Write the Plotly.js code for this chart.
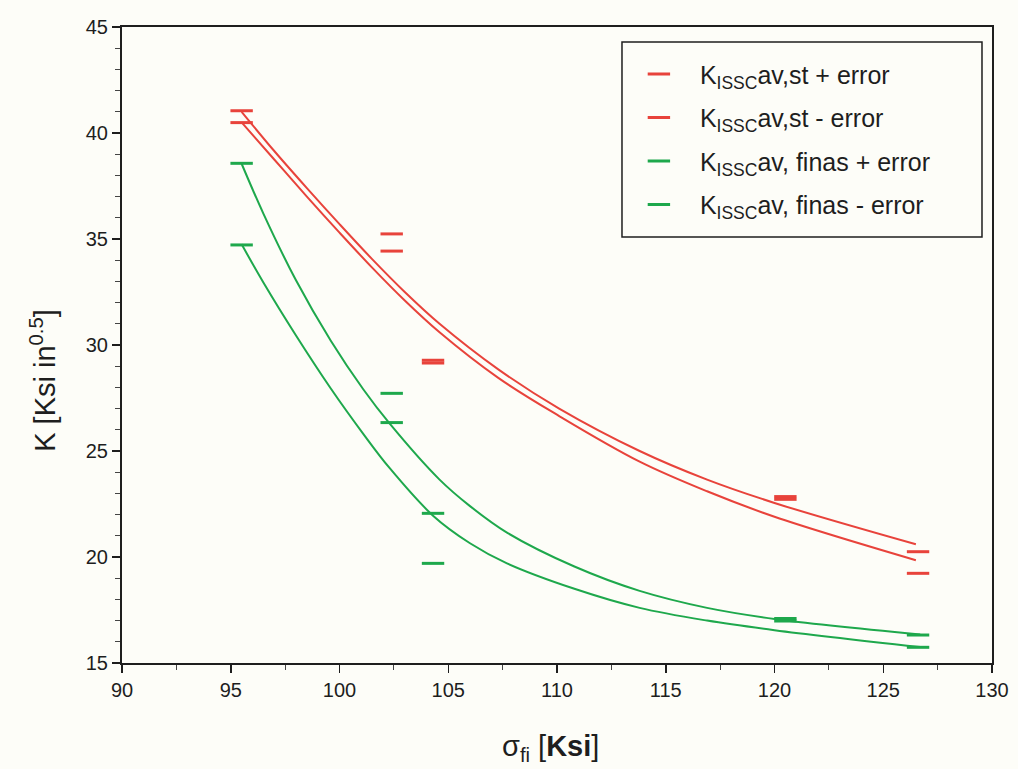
<!DOCTYPE html>
<html>
<head>
<meta charset="utf-8">
<script src="https://cdn.plot.ly/plotly-3.0.1.min.js"></script>
<style>html,body{margin:0;padding:0;background:#fdfdf8;}#chart{width:1018px;height:769px;}</style>
</head>
<body>
<div id="chart"></div>
<script>
// Measured points (dash markers)
const xPts = [95.5, 102.4, 104.3, 120.5, 126.6];
const redPlus  = [41.05, 35.24, 29.28, 22.85, 20.25];
const redMinus = [40.49, 34.43, 29.15, 22.72, 19.23];
const greenPlus  = [38.57, 27.72, 22.06, 17.10, 16.32];
const greenMinus = [34.72, 26.34, 19.70, 16.98, 15.74];

// Fitted curves
const redFitUpX = [95.5, 97.0, 98.5, 100.0, 101.5, 103.0, 104.6, 107.3, 110.1, 113.8, 116.9, 120.0, 126.5];
const redFitUpY = [41.0, 39.15, 37.4, 35.7, 34.05, 32.5, 31.0, 28.85, 27.0, 25.0, 23.65, 22.55, 20.6];
const redFitLoX = [95.5, 97.0, 98.5, 100.0, 101.5, 103.0, 104.6, 107.3, 110.1, 113.8, 116.9, 120.0, 126.5];
const redFitLoY = [40.5, 38.75, 37.0, 35.3, 33.65, 32.1, 30.6, 28.45, 26.65, 24.5, 23.1, 21.9, 19.85];
const greenFitUpX = [95.5, 96.5, 98.0, 99.6, 101.1, 102.3, 104.6, 106.0, 107.7, 110.8, 113.8, 116.9, 120.0, 126.7];
const greenFitUpY = [38.55, 36.2, 33.05, 30.2, 27.9, 26.3, 23.65, 22.4, 21.15, 19.55, 18.4, 17.6, 17.08, 16.35];
const greenFitLoX = [95.5, 96.5, 98.0, 99.6, 101.1, 102.3, 104.3, 106.0, 107.7, 110.8, 113.8, 116.9, 120.0, 126.7];
const greenFitLoY = [34.75, 32.95, 30.45, 27.95, 25.8, 24.2, 21.95, 20.65, 19.7, 18.5, 17.6, 17.0, 16.55, 15.75];

const legendNames = [
  'K<sub>ISSC</sub>av,st + error',
  'K<sub>ISSC</sub>av,st - error',
  'K<sub>ISSC</sub>av, finas + error',
  'K<sub>ISSC</sub>av, finas - error'
];
const xTitle = 'σ<sub>fi</sub> [<b>Ksi</b>]';
const yTitle = 'K [Ksi in<sup>0.5</sup>]';

const RED = '#e8433b';
const GREEN = '#1ea84c';
const INK = '#1e1e1e';
const BG = '#fdfdf8';

function pts(y, name, color, grp) {
  return {
    x: xPts, y: y, name: name, type: 'scatter', mode: 'markers',
    legendgroup: grp,
    marker: {symbol: 'line-ew', size: 16, color: color, line: {color: color, width: 3}},
    cliponaxis: false
  };
}
function fit(x, y, color, grp) {
  return {
    x: x, y: y, type: 'scatter', mode: 'lines', showlegend: false,
    legendgroup: grp,
    line: {color: color, width: 2, shape: 'spline', smoothing: 1.0},
    hoverinfo: 'skip'
  };
}

const data = [
  fit(redFitUpX, redFitUpY, RED, 'a'),
  fit(redFitLoX, redFitLoY, RED, 'b'),
  fit(greenFitUpX, greenFitUpY, GREEN, 'c'),
  fit(greenFitLoX, greenFitLoY, GREEN, 'd'),
  pts(redPlus, legendNames[0], RED, 'a'),
  pts(redMinus, legendNames[1], RED, 'b'),
  pts(greenPlus, legendNames[2], GREEN, 'c'),
  pts(greenMinus, legendNames[3], GREEN, 'd')
];

const layout = {
  width: 1018, height: 769,
  paper_bgcolor: BG, plot_bgcolor: BG,
  margin: {l: 122, r: 26, t: 27, b: 106},
  font: {family: 'Liberation Sans, Arial, sans-serif', color: INK},
  showlegend: true,
  legend: {
    x: 0.570, y: 0.962, xanchor: 'left', yanchor: 'top',
    bgcolor: 'rgba(0,0,0,0)', borderwidth: 0,
    font: {size: 25, color: INK},
    traceorder: 'grouped', tracegroupgap: 8,
    itemwidth: 72
  },
  shapes: [{
    type: 'rect', xref: 'paper', yref: 'paper',
    x0: 0.5747, x1: 0.9885, y0: 0.6698, y1: 0.9764,
    line: {color: INK, width: 1.5}, fillcolor: BG, layer: 'below'
  }],
  annotations: [
    {text: yTitle, xref: 'paper', yref: 'paper', x: -0.091, y: 0.445,
     xanchor: 'center', yanchor: 'middle', textangle: -90, showarrow: false,
     font: {size: 29, color: INK}},
    {text: xTitle, xref: 'paper', yref: 'paper', x: 0.493, y: -0.134,
     xanchor: 'center', yanchor: 'middle', showarrow: false,
     font: {size: 29, color: INK}}
  ],
  xaxis: {
    range: [90, 130], dtick: 5, tick0: 90,
    showgrid: false, zeroline: false,
    showline: true, linecolor: INK, linewidth: 2, mirror: true,
    ticks: 'outside', ticklen: 8, tickwidth: 1.5, tickcolor: INK,
    minor: {dtick: 2.5, ticks: 'outside', ticklen: 5, tickwidth: 1, tickcolor: '#444'},
    tickfont: {size: 20, color: INK}
  },
  yaxis: {
    range: [15, 45], dtick: 5, tick0: 15,
    showgrid: false, zeroline: false,
    showline: true, linecolor: INK, linewidth: 2, mirror: true,
    ticks: 'outside', ticklen: 8, tickwidth: 1.5, tickcolor: INK,
    minor: {dtick: 1, ticks: 'outside', ticklen: 5, tickwidth: 1, tickcolor: '#444'},
    tickfont: {size: 20, color: INK}
  }
};

Plotly.newPlot('chart', data, layout, {displayModeBar: false, staticPlot: true});
</script>
</body>
</html>
